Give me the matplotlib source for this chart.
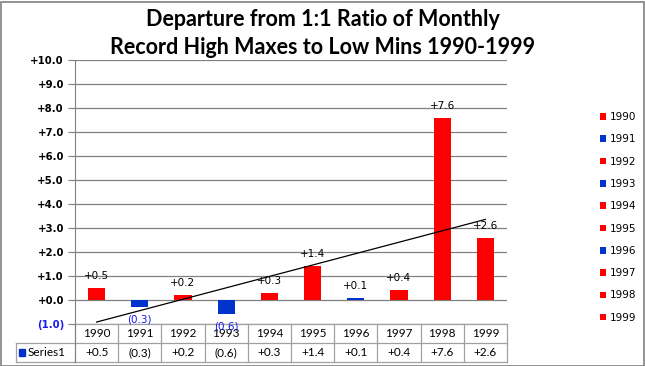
import matplotlib.pyplot as plt
from matplotlib.patches import Patch, Rectangle
from matplotlib.lines import Line2D
import numpy as np

# data
years = ['1990', '1991', '1992', '1993', '1994', '1995', '1996', '1997', '1998', '1999']
values = [0.5, -0.3, 0.2, -0.6, 0.3, 1.4, 0.1, 0.4, 7.6, 2.6]
bar_colors = ['#FF0000', '#0033CC', '#FF0000', '#0033CC', '#FF0000',
              '#FF0000', '#0033CC', '#FF0000', '#FF0000', '#FF0000']
series_name = 'Series1'


def fmt(v):
    if v < 0:
        return '({:.1f})'.format(-v)
    return '+{:.1f}'.format(v)


W, H = 645, 366
fig = plt.figure(figsize=(W / 100, H / 100), dpi=100)
ax = fig.add_axes([75 / W, (H - 324) / H, (507 - 75) / W, (324 - 60) / H])

x = np.arange(len(years))
ax.bar(x, values, width=0.4, color=bar_colors, zorder=3)

# linear trendline
k, b = np.polyfit(x, values, 1)
ax.plot([x[0], x[-1]], [k * x[0] + b, k * x[-1] + b], color='black', lw=0.9, zorder=4)

# data labels
for xi, v in zip(x, values):
    if v >= 0:
        ax.text(xi, v + 0.5, fmt(v), ha='center', va='center', fontsize=7.5, color='black', zorder=5)
    else:
        ax.text(xi, v - 0.5, fmt(v), ha='center', va='center', fontsize=7.5, color='#1a1aee', zorder=5)

ax.set_xlim(-0.5, 9.5)
ax.set_ylim(-1, 10)
yt = np.arange(-1, 11, 1)
ax.set_yticks(yt)
ax.set_yticklabels([fmt(t) for t in yt], fontsize=7.3, fontweight='bold')
for lab, t in zip(ax.get_yticklabels(), yt):
    if t < 0:
        lab.set_color('#1a1aee')
ax.tick_params(axis='y', length=5, color='#808080', pad=3)
ax.set_xticks([])
ax.grid(axis='y', color='#808080', lw=0.9, zorder=0)
for s in ['top', 'right', 'bottom']:
    ax.spines[s].set_visible(False)
ax.spines['left'].set_color('#808080')

# data table under the plot
trans = ax.get_xaxis_transform()
rh = 19 / 264
lc = '#a0a0a0'
left = -0.5 - 59 / 43.2
ax.add_line(Line2D([-0.5, 9.5], [0, 0], transform=trans, color=lc, lw=0.9, clip_on=False))
ax.add_line(Line2D([left, 9.5], [-rh, -rh], transform=trans, color=lc, lw=0.9, clip_on=False))
ax.add_line(Line2D([left, 9.5], [-2 * rh, -2 * rh], transform=trans, color=lc, lw=0.9, clip_on=False))
ax.add_line(Line2D([left, left], [-rh, -2 * rh], transform=trans, color=lc, lw=0.9, clip_on=False))
for i in range(len(years) + 1):
    ax.add_line(Line2D([i - 0.5, i - 0.5], [0, -2 * rh], transform=trans,
                       color=lc if i else '#808080', lw=0.9, clip_on=False))
for xi, yr, v in zip(x, years, values):
    ax.text(xi, -rh / 2, yr, transform=trans, ha='center', va='center', fontsize=8.5, family='Lato')
    ax.text(xi, -1.5 * rh, fmt(v), transform=trans, ha='center', va='center', fontsize=8.5, family='Lato')
ax.add_patch(Rectangle((left + 0.07, -1.5 * rh - 0.012), 0.14, 0.024, transform=trans,
                       color='#0033CC', clip_on=False))
ax.text(left + 0.27, -1.5 * rh, series_name, transform=trans, ha='left', va='center',
        fontsize=8.5, family='Lato')

# title
fig.text(0.5, 1 - 20 / H, 'Departure from 1:1 Ratio of Monthly', ha='center', va='center',
         fontsize=15.5, fontweight='bold', family='Lato')
fig.text(0.5, 1 - 47 / H, 'Record High Maxes to Low Mins 1990-1999', ha='center', va='center',
         fontsize=15.5, fontweight='bold', family='Lato')

# legend, one entry per point
handles = [Patch(facecolor=c, edgecolor='none') for c in bar_colors]
fig.legend(handles, years, loc='upper left', bbox_to_anchor=(596 / W, 1 - 108 / H),
           frameon=False, fontsize=7.5, handlelength=0.6, handleheight=0.6,
           handletextpad=0.3, labelspacing=1.18, borderaxespad=0)

# chart border
fig.add_artist(Rectangle((0.5 / W, 0.5 / H), 1 - 2 / W, 1 - 2 / H, transform=fig.transFigure,
                         fill=False, edgecolor='#808080', lw=1.2))

fig.savefig('out.png', dpi=100)
